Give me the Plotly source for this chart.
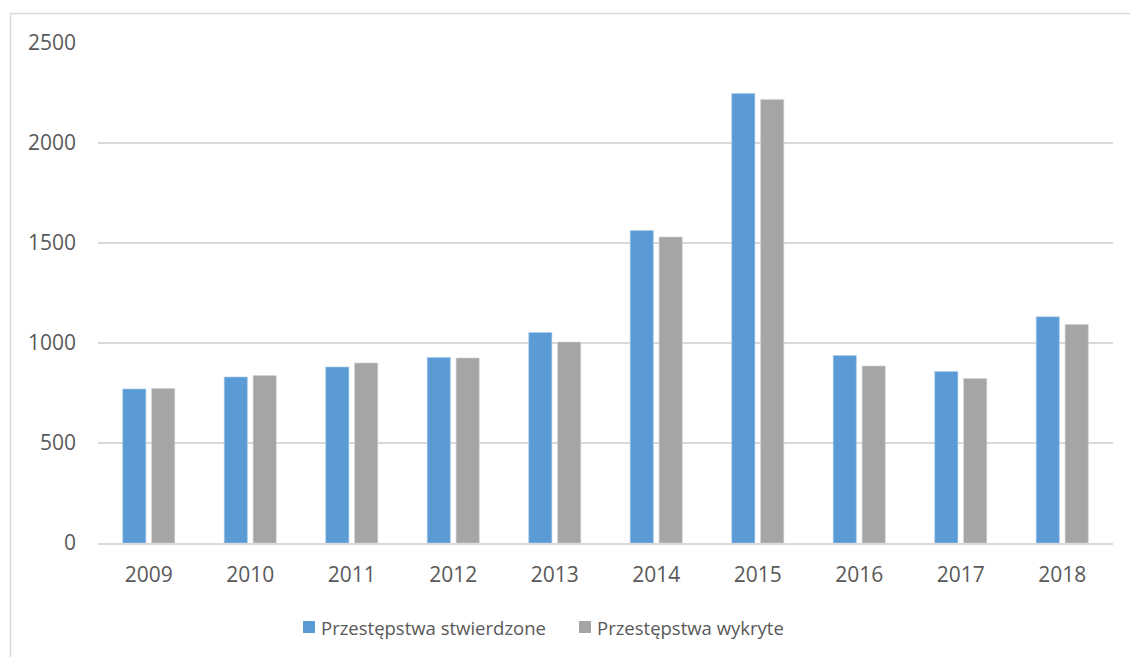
import plotly.graph_objects as go

years = ["2009", "2010", "2011", "2012", "2013", "2014", "2015", "2016", "2017", "2018"]
stwierdzone = [770, 830, 880, 928, 1053, 1562, 2248, 937, 858, 1131]
wykryte = [773, 837, 900, 925, 1005, 1530, 2218, 885, 822, 1093]
series_names = ["Przestępstwa stwierdzone", "Przestępstwa wykryte"]
series_colors = ["#5B9BD5", "#A5A5A5"]
series_edges = ["#A9CBEA", "#D0D0D0"]

y_ticks = [0, 500, 1000, 1500, 2000, 2500]

TEXT = "#595959"
GRID = "#D9D9D9"
FONT = "Open Sans, Noto Sans, sans-serif"

fig = go.Figure()
for name, vals, col, edge in zip(series_names, [stwierdzone, wykryte], series_colors, series_edges):
    fig.add_trace(go.Bar(
        name=name, x=years, y=vals,
        marker=dict(color=col, line=dict(color=edge, width=0.6)),
    ))

W, H = 1130, 657
ml, mr, mt, mb = 98, 17, 43, 114
pw, ph = W - ml - mr, H - mt - mb


def px_x(x):
    return (x - ml) / pw


def px_y(y):
    return (H - mb - y) / ph


shapes = [dict(
    type="rect", xref="paper", yref="paper",
    x0=px_x(10.5), x1=px_x(W + 20), y0=px_y(H + 20), y1=px_y(13.5),
    line=dict(color=GRID, width=1.5), fillcolor="rgba(0,0,0,0)", layer="below",
)]
annotations = []

# legend drawn below the plot: colour key square followed by series name
legend_starts = [303, 579]
for name, col, x0 in zip(series_names, series_colors, legend_starts):
    shapes.append(dict(
        type="rect", xref="paper", yref="paper",
        x0=px_x(x0), x1=px_x(x0 + 12), y0=px_y(633), y1=px_y(621),
        line=dict(width=0), fillcolor=col,
    ))
    annotations.append(dict(
        xref="paper", yref="paper", x=px_x(x0 + 16), y=px_y(627),
        xanchor="left", yanchor="middle", showarrow=False, text=name,
        font=dict(family=FONT, size=18.5, color=TEXT),
    ))

fig.update_layout(
    width=W, height=H,
    margin=dict(l=ml, r=mr, t=mt, b=mb, pad=0),
    paper_bgcolor="white", plot_bgcolor="white",
    barmode="group", bargap=0.43, bargroupgap=0.2,
    font=dict(family=FONT, size=21, color=TEXT),
    showlegend=False,
    xaxis=dict(
        showgrid=False, showline=True, linecolor=GRID, linewidth=1.5,
        ticks="", ticklabelstandoff=12, tickfont=dict(size=21, color=TEXT),
    ),
    yaxis=dict(
        range=[0, 2500], tickvals=y_ticks, showgrid=True, gridcolor=GRID,
        gridwidth=1.5, zeroline=False, showline=False, ticks="",
        ticklabelstandoff=21, tickfont=dict(size=21, color=TEXT),
    ),
    shapes=shapes,
    annotations=annotations,
)

fig.write_html("out.html")
